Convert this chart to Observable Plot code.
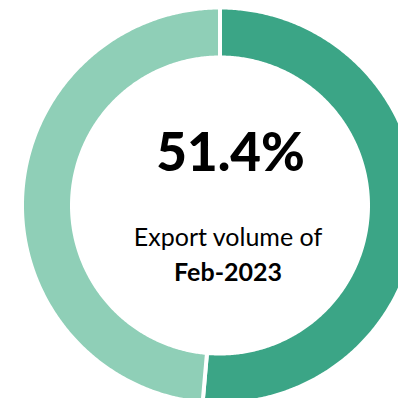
<!DOCTYPE html>
<html><head><meta charset="utf-8">
<script src="https://cdn.jsdelivr.net/npm/d3@7"></script>
<script src="https://cdn.jsdelivr.net/npm/@observablehq/plot@0.6"></script>
<style>html,body{margin:0;padding:0;background:#fff;overflow:hidden}</style>
</head><body><div id="chart"></div>
<script>
const categories = ["Feb-2023", "Other"];
const shares = [51.4, 48.6];
const headline = "51.4%";
const subtitleLines = ["Export volume of", "Feb-2023"];

const W = 398, H = 398;
const cx = 219.5, cy = 205;
const rOuter = 198, rInner = 148;

const pie = d3.pie().sort(null).value(d => d.share);
const arcs = pie(categories.map((c, i) => ({name: c, share: shares[i]})));
const pts = [];
for (const a of arcs) {
  const n = Math.max(4, Math.ceil((a.endAngle - a.startAngle) / (Math.PI / 360)));
  const ring = [];
  for (let k = 0; k <= n; k++) {
    const t = a.startAngle + (a.endAngle - a.startAngle) * k / n;
    ring.push({name: a.data.name, x: rOuter * Math.sin(t), y: rOuter * Math.cos(t)});
  }
  for (let k = n; k >= 0; k--) {
    const t = a.startAngle + (a.endAngle - a.startAngle) * k / n;
    ring.push({name: a.data.name, x: rInner * Math.sin(t), y: rInner * Math.cos(t)});
  }
  ring.push({...ring[0]});
  pts.push(...ring);
}

const labels = [
  {text: headline, x: 10.5, y: 35, size: 53, weight: "900"},
  {text: subtitleLines[0], x: 8, y: -40, size: 25, weight: "normal"},
  {text: subtitleLines[1], x: 8, y: -75, size: 25, weight: "bold"}
];

const chart = Plot.plot({
  width: W, height: H,
  margin: 0,
  x: {domain: [-cx, W - cx], range: [0, W], axis: null},
  y: {domain: [-(H - cy), cy], range: [H, 0], axis: null},
  color: {domain: categories, range: ["#3BA586", "#8FCFB7"]},
  style: {fontFamily: "Lato, 'Open Sans', sans-serif", background: "white"},
  marks: [
    Plot.line(pts, {x: "x", y: "y", z: "name", fill: "name", stroke: "white", strokeWidth: 4, curve: "linear"}),
    ...labels.map(l => Plot.text([l], {x: "x", y: "y", text: "text", fontSize: l.size, fontWeight: l.weight, fill: "black", lineAnchor: "bottom"}))
  ]
});
document.getElementById("chart").appendChild(chart);
</script></body></html>
